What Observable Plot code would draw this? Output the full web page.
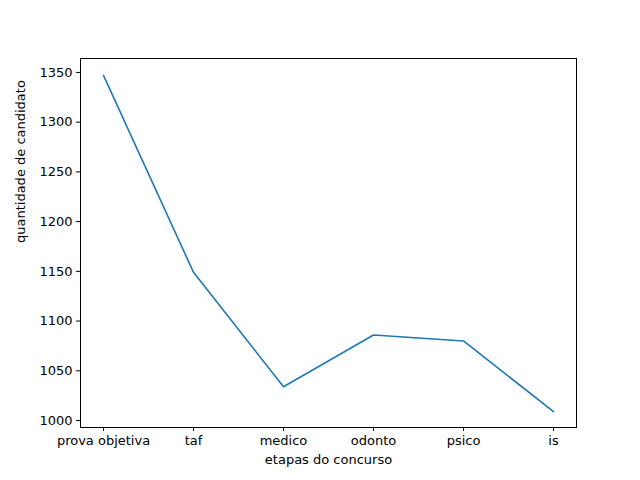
<!DOCTYPE html>
<html><head><meta charset="utf-8">
<script src="https://cdn.jsdelivr.net/npm/d3@7"></script>
<script src="https://cdn.jsdelivr.net/npm/@observablehq/plot@0.6"></script>
<style>body{margin:0;background:#fff}</style>
</head><body><div id="c"></div>
<script>
const etapas = ["prova objetiva","taf","medico","odonto","psico","is"];
const quantidade = [1347,1149,1034,1086,1080,1009];
const yTicks = [1000,1050,1100,1150,1200,1250,1300,1350];
const data = etapas.map((e,i)=>({etapa:e, q:quantidade[i]}));
const chart = Plot.plot({
  width:640, height:480,
  marginLeft:80, marginRight:64, marginTop:58, marginBottom:53,
  style:{fontFamily:"DejaVu Sans", fontSize:"13px", color:"black", background:"white"},
  x:{type:"point", domain:etapas, range:[103,553], padding:0, label:null},
  y:{domain:[993,1364], label:null},
  marks:[
    Plot.frame({stroke:"black", strokeWidth:1}),
    Plot.axisX({tickSize:4, tickPadding:4, label:null}),
    Plot.axisY({ticks:yTicks, tickFormat:d=>String(d), tickSize:4, tickPadding:4, label:null}),
    Plot.line(data,{x:"etapa", y:"q", stroke:"#1f77b4", strokeWidth:1.6}),
    Plot.text(["etapas do concurso"],{frameAnchor:"bottom", dy:36, fontSize:13}),
    Plot.text(["quantidade de candidato"],{frameAnchor:"left", dx:-60, rotate:-90, fontSize:13})
  ]
});
document.getElementById("c").append(chart);
</script></body></html>
